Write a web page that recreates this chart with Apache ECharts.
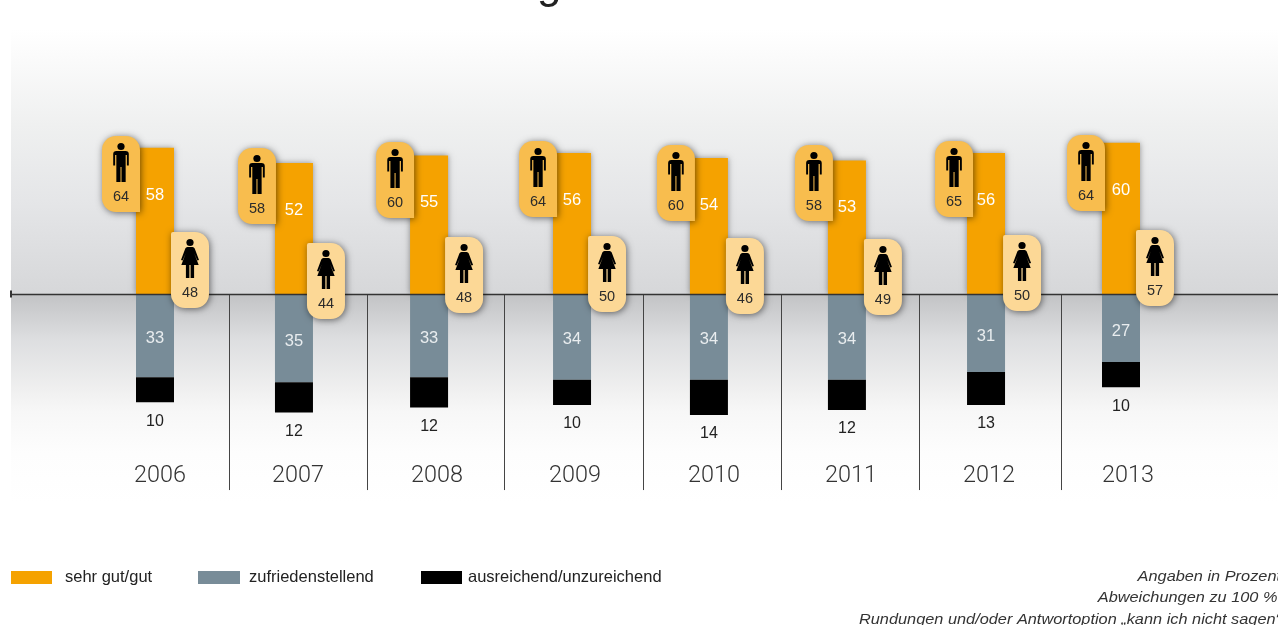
<!DOCTYPE html>
<html lang="de">
<head>
<meta charset="utf-8">
<style>html,body{margin:0;padding:0;background:#fff}#chart{width:1278px;height:625px}</style>
<script src="https://cdn.jsdelivr.net/npm/echarts@6/dist/echarts.min.js"></script>
</head>
<body>
<div id="chart"></div>
<script>
// Survey results per year, in percent
const years = ['2006', '2007', '2008', '2009', '2010', '2011', '2012', '2013'];
const veryGood = [58, 52, 55, 56, 54, 53, 56, 60];
const satisfactory = [33, 35, 33, 34, 34, 34, 31, 27];
const poor = [10, 12, 12, 10, 14, 12, 13, 10];
const men = [64, 58, 60, 64, 60, 58, 65, 64];
const women = [48, 44, 48, 50, 46, 49, 50, 57];

// Column placement along the time axis, in fractional years (the columns are hand-spaced)
const columnSlots = [2006, 2007.007, 2007.986, 2009.022, 2010.014, 2011.014, 2012.022, 2013];
const dividerSlots = [2006.536, 2007.536, 2008.529, 2009.536, 2010.536, 2011.536, 2012.565];
const yearNudge = [5, 4, 8, 3, 5, 4, 3, 7];
const yearLabelLevel = -72.4;
const dividerDepth = -77.8;

// Callout placement relative to each column, in pixels
const manShift = [-34, -37, -34, -34, -33, -33, -32, -35];
const womanShift = [35, 32, 35, 35, 36, 36, 36, 34];
const manLift = [158, 146, 152, 153, 149, 149, 153, 159];
const womanLift = [62, 51, 57, 58, 56, 55, 59, 64];

const SANS = '"Liberation Sans", Arial, sans-serif';
const ORANGE = '#f5a200';
const SLATE = '#788c98';
const MS_PER_YEAR = 31557600000;
const toTime = slot => (slot - 1970) * MS_PER_YEAR;

const MAN_PATH = 'M-4.5 0L4.5 0Q7.7 0 7.7 3L7.7 14.5L5.8 14.5L5.8 4L4.6 4L4.6 31L0.5 31L0.5 16L-0.5 16L-0.5 31L-4.6 31L-4.6 4L-5.8 4L-5.8 14.5L-7.7 14.5L-7.7 3Q-7.7 0 -4.5 0Z';
const WOMAN_PATH = 'M-2.5 0L2.5 0Q4 0 4.6 1.6L8.8 13L7.2 13.6L4.2 6.5L8.5 18L4 18L4 31L0.6 31L0.6 18L-0.6 18L-0.6 31L-4 31L-4 18L-8.5 18L-4.2 6.5L-7.2 13.6L-8.8 13L-4.6 1.6Q-4 0 -2.5 0Z';

// A rounded callout holding a pictogram and the share for that gender
function callout(api, isMan) {
  const i = api.value(2);
  const zero = api.coord([api.value(0), 0]);
  const w = 38, h = 76;
  const cx = zero[0] + (isMan ? manShift[i] : womanShift[i]);
  const top = zero[1] - (isMan ? manLift[i] : womanLift[i]);
  const iconW = isMan ? 15.6 : 18;
  return {
    type: 'group',
    x: cx,
    y: top,
    children: [
      {
        type: 'rect',
        shape: { x: -w / 2, y: 0, width: w, height: h, r: isMan ? [14, 14, 0, 14] : [2, 14, 14, 14] },
        style: {
          fill: isMan ? '#f8bd4e' : '#fcd896',
          shadowBlur: 7,
          shadowColor: 'rgba(0,0,0,0.55)',
          shadowOffsetX: 1,
          shadowOffsetY: 1
        }
      },
      { type: 'circle', shape: { cx: 0, cy: 10.5, r: 3.6 }, style: { fill: '#000' } },
      {
        type: 'path',
        shape: { pathData: isMan ? MAN_PATH : WOMAN_PATH, layout: 'cover', x: -iconW / 2, y: 15, width: iconW, height: 31 },
        style: { fill: '#000' }
      },
      {
        type: 'text',
        style: {
          x: 0, y: 61, text: String(api.value(1)), align: 'center', verticalAlign: 'middle',
          fill: '#2b2b2b', font: '14.5px ' + SANS
        }
      }
    ]
  };
}

// Footnote line, set slightly wide and right-aligned against the page edge
const footnote = (text, x, y) => ({
  type: 'text', x, y, scaleX: 1.126,
  style: { x: 0, y: 0, text, align: 'right', fill: '#333', font: 'italic 14.5px ' + SANS }
});

const chart = echarts.init(document.getElementById('chart'));
chart.setOption({
  animation: false,
  backgroundColor: '#fff',
  grid: {
    show: true,
    left: 11,
    width: 1267,
    top: 29.4,
    height: 516.6,
    borderWidth: 0,
    backgroundColor: {
      type: 'linear', x: 0, y: 0, x2: 0, y2: 1,
      colorStops: [
        { offset: 0, color: '#ffffff' },
        { offset: 0.05, color: '#fbfbfb' },
        { offset: 0.185, color: '#eff0f0' },
        { offset: 0.33, color: '#e5e6e8' },
        { offset: 0.5122, color: '#d6d7d9' },
        { offset: 0.5122, color: '#c2c3c5' },
        { offset: 0.6, color: '#dddee0' },
        { offset: 0.7, color: '#f0f0f0' },
        { offset: 0.74, color: '#f7f7f7' },
        { offset: 0.82, color: '#fdfdfd' },
        { offset: 0.92, color: '#ffffff' },
        { offset: 1, color: '#ffffff' }
      ]
    }
  },
  xAxis: {
    type: 'time',
    // The bar layout pads a time axis by half a column on each side, so the limits sit inward by that much
    min: toTime(2005.0942),
    max: toTime(2014.0),
    z: 3,
    axisLine: {
      show: true, onZero: true, symbol: ['rect', 'none'], symbolSize: [7, 2],
      lineStyle: { color: '#333', width: 1.3 }
    },
    axisTick: { show: false },
    axisLabel: { show: false },
    splitLine: { show: false }
  },
  yAxis: { type: 'value', min: -100, max: 105, show: false, splitLine: { show: false } },
  legend: [
    {
      data: ['sehr gut/gut'], left: 11, top: 569, padding: 0, itemWidth: 41, itemHeight: 13,
      icon: 'rect', itemStyle: { shadowBlur: 0 },
      textStyle: { fontFamily: SANS, fontSize: 16.5, color: '#222', padding: [0, 0, 6, 8] }
    },
    {
      data: ['zufriedenstellend'], left: 198, top: 569, padding: 0, itemWidth: 42, itemHeight: 13,
      icon: 'rect',
      textStyle: { fontFamily: SANS, fontSize: 16.5, color: '#222', padding: [0, 0, 6, 4] }
    },
    {
      data: ['ausreichend/unzureichend'], left: 421, top: 569, padding: 0, itemWidth: 41, itemHeight: 13,
      icon: 'rect',
      textStyle: { fontFamily: SANS, fontSize: 16.5, color: '#222', padding: [0, 0, 6, 1] }
    }
  ],
  graphic: [
    { type: 'text', left: 537, top: -36, style: { text: 'g', fill: '#222', font: '44px ' + SANS } },
    footnote('Angaben in Prozent', 1281, 569),
    footnote('Abweichungen zu 100 %:', 1282, 590),
    footnote('Rundungen und/oder Antwortoption „kann ich nicht sagen“', 1281, 612)
  ],
  series: [
    {
      name: 'sehr gut/gut', type: 'bar', stack: 'share', barWidth: 38, z: 2,
      itemStyle: { color: ORANGE, shadowBlur: 6, shadowColor: 'rgba(0,0,0,0.4)' },
      label: { show: true, position: 'insideTop', distance: 39, color: '#fff', fontFamily: SANS, fontSize: 16.5,
        formatter: p => String(p.value[1]) },
      data: veryGood.map((v, i) => [toTime(columnSlots[i]), v])
    },
    {
      name: 'zufriedenstellend', type: 'bar', stack: 'share', barWidth: 38, z: 2,
      itemStyle: { color: SLATE },
      label: { show: true, position: 'inside', offset: [0, 3], color: '#e9edef', fontFamily: SANS, fontSize: 16.5,
        formatter: p => String(Math.abs(p.value[1])) },
      data: satisfactory.map((v, i) => [toTime(columnSlots[i]), -v])
    },
    {
      name: 'ausreichend/unzureichend', type: 'bar', stack: 'share', barWidth: 38, z: 2,
      itemStyle: { color: '#000' },
      label: { show: true, position: 'outside', distance: 11, color: '#222', fontFamily: SANS, fontSize: 16,
        formatter: p => String(Math.abs(p.value[1])) },
      data: poor.map((v, i) => [toTime(columnSlots[i]), -v])
    },
    {
      // Thin rules separating the years below the baseline
      type: 'custom', z: 1, silent: true,
      renderItem: (params, api) => {
        const a = api.coord([api.value(0), 0]);
        const b = api.coord([api.value(0), dividerDepth]);
        const x = Math.round(a[0]) + 0.5;
        return { type: 'line', shape: { x1: x, y1: a[1], x2: x, y2: b[1] }, style: { stroke: '#444', lineWidth: 1 } };
      },
      data: dividerSlots.map(s => [toTime(s)])
    },
    {
      // Year captions
      type: 'custom', z: 2, silent: true,
      renderItem: (params, api) => {
        const i = api.value(1);
        const p = api.coord([api.value(0), yearLabelLevel]);
        return {
          type: 'text',
          style: { x: p[0] + yearNudge[i], y: p[1], text: years[i], align: 'center', verticalAlign: 'middle', fill: '#333', font: '300 23.4px Roboto, ' + SANS }
        };
      },
      data: columnSlots.map((s, i) => [toTime(s), i])
    },
    {
      type: 'custom', z: 5, silent: true,
      renderItem: (params, api) => callout(api, true),
      data: men.map((v, i) => [toTime(columnSlots[i]), v, i])
    },
    {
      type: 'custom', z: 5, silent: true,
      renderItem: (params, api) => callout(api, false),
      data: women.map((v, i) => [toTime(columnSlots[i]), v, i])
    }
  ]
});
</script>
</body>
</html>
